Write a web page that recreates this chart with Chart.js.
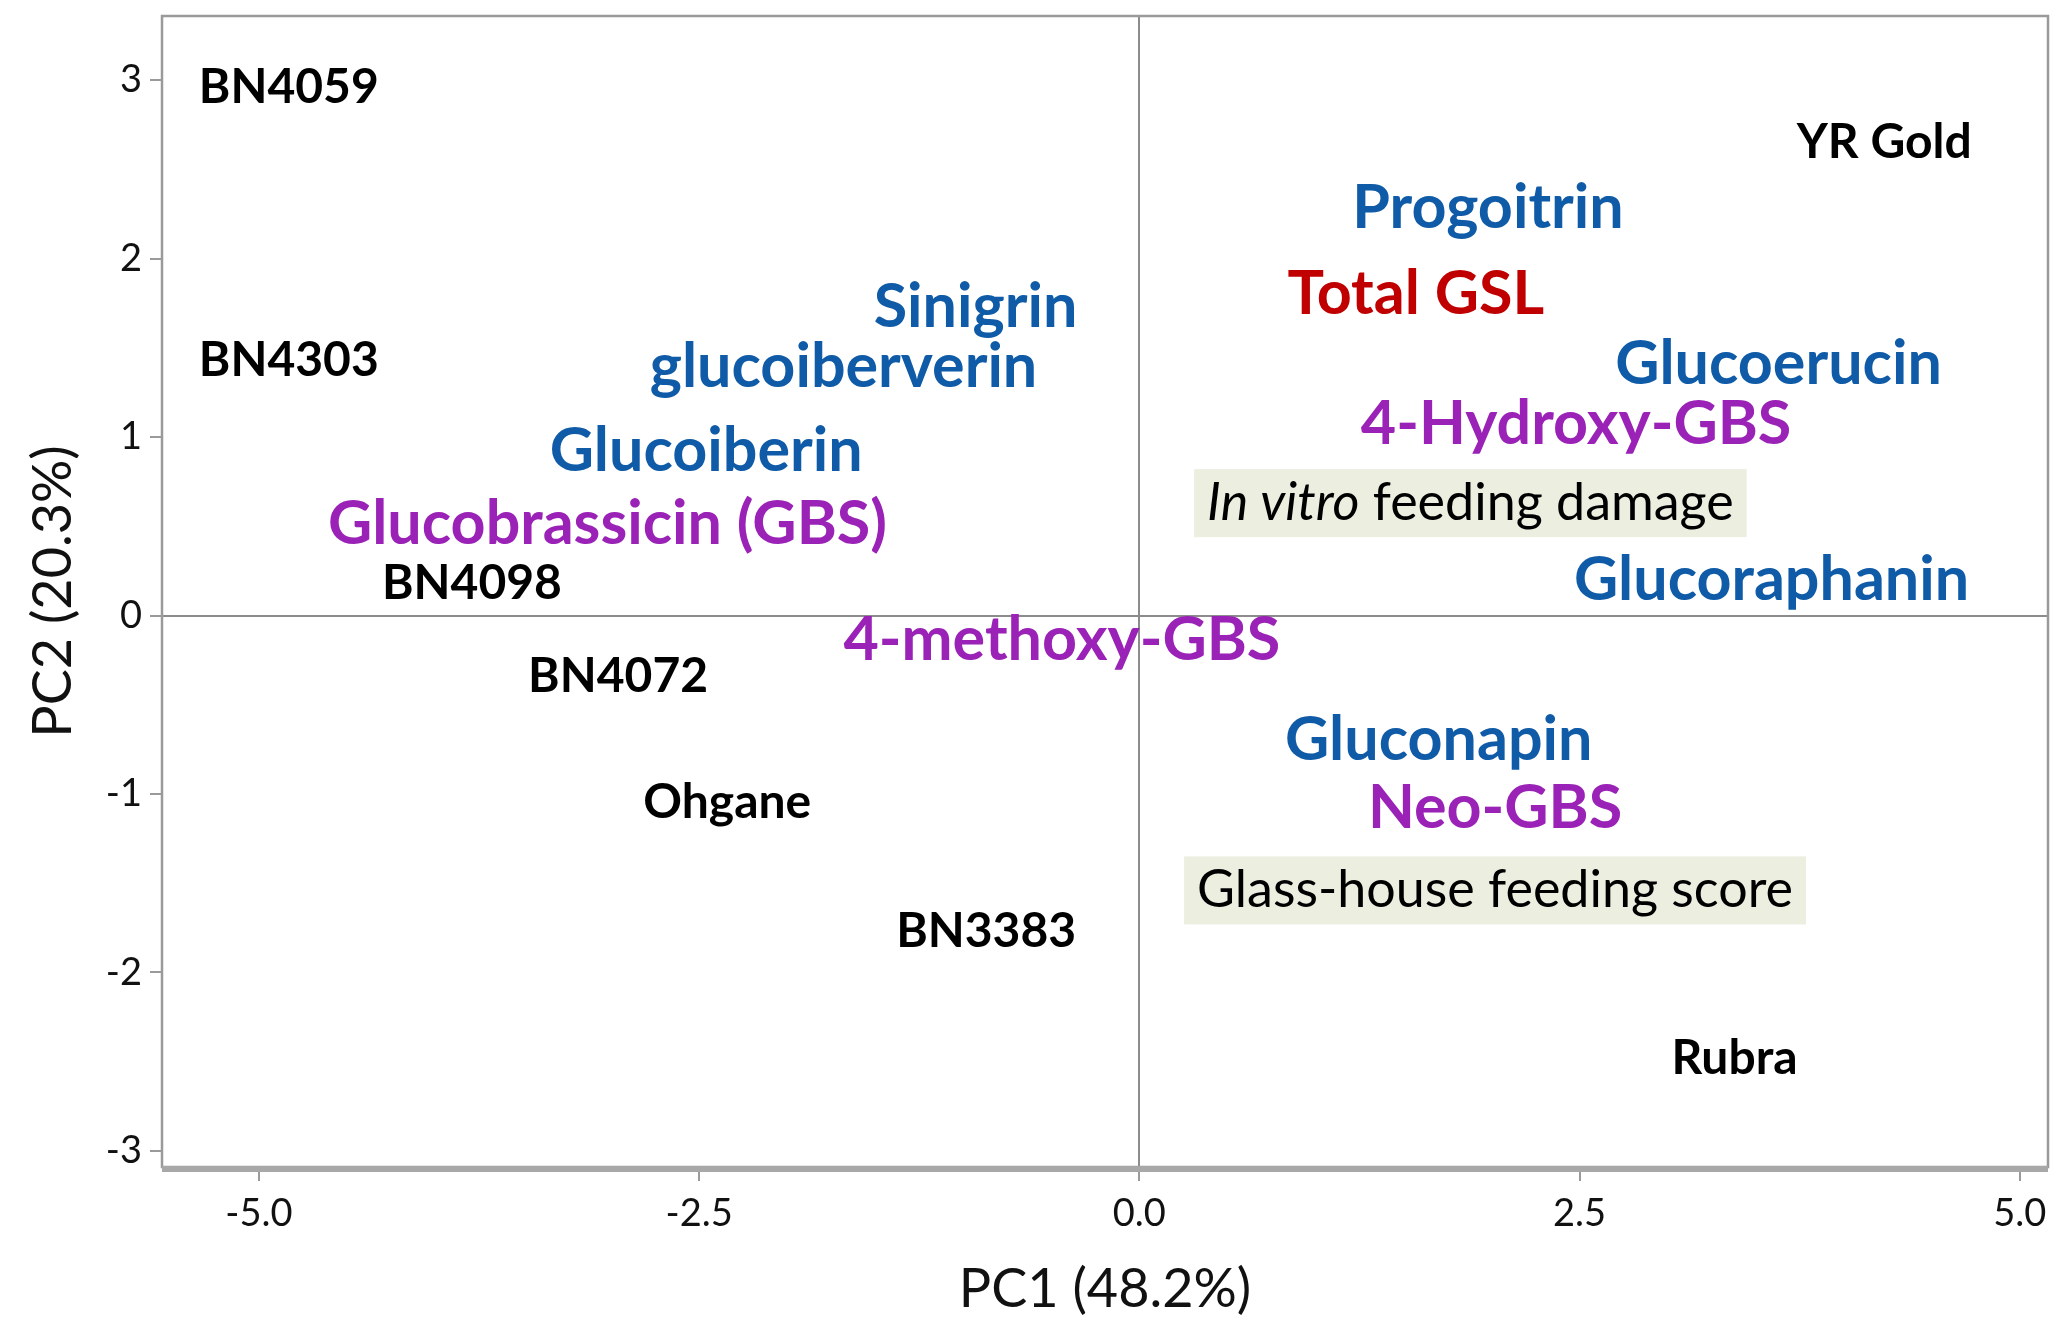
<!DOCTYPE html>
<html lang="en">
<head>
    <meta charset="UTF-8">
    <title>PCA biplot - PC1 vs PC2</title>
    <script src="https://cdn.jsdelivr.net/npm/chart.js"></script>
    <style>
        html, body { margin: 0; padding: 0; background: #fff; }
        #wrap { width: 2069px; height: 1330px; }
    </style>
</head>
<body>
    <div id="wrap"><canvas id="pcaChart"></canvas></div>

    <script>
        // Varieties (black labels)
        const varieties = ['BN4059', 'BN4303', 'BN4098', 'BN4072', 'Ohgane', 'BN3383', 'YR Gold', 'Rubra'];
        const varietyPC1 = [-4.83, -4.83, -3.79, -2.96, -2.34, -0.87, 4.23, 3.38];
        const varietyPC2 = [2.96, 1.43, 0.18, -0.34, -1.05, -1.77, 2.65, -2.48];

        // Aliphatic / aromatic glucosinolates (blue)
        const blueNames = ['Progoitrin', 'Sinigrin', 'glucoiberverin', 'Glucoerucin', 'Glucoiberin', 'Glucoraphanin', 'Gluconapin'];
        const bluePC1 = [1.98, -0.93, -1.68, 3.63, -2.46, 3.59, 1.70];
        const bluePC2 = [2.28, 1.73, 1.39, 1.41, 0.92, 0.20, -0.70];

        // Indole glucosinolates (purple)
        const purpleNames = ['4-Hydroxy-GBS', 'Glucobrassicin (GBS)', '4-methoxy-GBS', 'Neo-GBS'];
        const purplePC1 = [2.48, -3.02, -0.44, 2.02];
        const purplePC2 = [1.07, 0.51, -0.14, -1.08];

        // Total (red)
        const totalNames = ['Total GSL'];
        const totalPC1 = [1.57];
        const totalPC2 = [1.80];

        // Feeding traits (boxed)
        const feedingNames = ['In vitro|feeding damage', 'Glass-house feeding score'];
        const feedingPC1 = [1.88, 2.02];
        const feedingPC2 = [0.63, -1.54];

        const xTicks = [-5, -2.5, 0, 2.5, 5];
        const yTicks = [-3, -2, -1, 0, 1, 2, 3];

        const toPoints = (xs, ys) => xs.map((x, i) => ({ x: x, y: ys[i] }));

        const groups = [
            { names: varieties, xs: varietyPC1, ys: varietyPC2, color: '#000000', font: 'bold 48px Lato', box: false },
            { names: blueNames, xs: bluePC1, ys: bluePC2, color: '#0f5ba7', font: 'bold 61px Lato', box: false },
            { names: purpleNames, xs: purplePC1, ys: purplePC2, color: '#9a22b6', font: 'bold 61px Lato', box: false },
            { names: totalNames, xs: totalPC1, ys: totalPC2, color: '#c00000', font: 'bold 61px Lato', box: false },
            { names: feedingNames, xs: feedingPC1, ys: feedingPC2, color: '#000000', font: '52px Lato', box: true }
        ];

        // draws the text labels at each point position given by the scales
        const labelPlugin = {
            id: 'pointLabels',
            afterDatasetsDraw(chart) {
                const ctx = chart.ctx;
                ctx.save();
                ctx.textBaseline = 'middle';
                groups.forEach((g, di) => {
                    const meta = chart.getDatasetMeta(di);
                    meta.data.forEach((pt, i) => {
                        const name = g.names[i];
                        ctx.fillStyle = g.color;
                        ctx.font = g.font;
                        if (!g.box) {
                            ctx.textAlign = 'center';
                            ctx.fillText(name, pt.x, pt.y);
                            return;
                        }
                        // boxed label, optional italic first part
                        let parts = name.split('|');
                        let italic = parts.length > 1 ? parts[0] : '';
                        let rest = parts.length > 1 ? ' ' + parts[1] : parts[0];
                        ctx.font = 'italic ' + g.font;
                        const wi = italic ? ctx.measureText(italic).width : 0;
                        ctx.font = g.font;
                        const wr = ctx.measureText(rest).width;
                        const w = wi + wr;
                        const left = pt.x - w / 2;
                        ctx.fillStyle = '#eceee0';
                        ctx.fillRect(left - 13, pt.y - 34, w + 26, 68);
                        ctx.fillStyle = g.color;
                        ctx.textAlign = 'left';
                        if (italic) {
                            ctx.font = 'italic ' + g.font;
                            ctx.fillText(italic, left, pt.y);
                        }
                        ctx.font = g.font;
                        ctx.fillText(rest, left + wi, pt.y);
                    });
                });
                ctx.restore();
            }
        };

        // frame around the plot area, heavier at the bottom
        const framePlugin = {
            id: 'frame',
            afterDraw(chart) {
                const a = chart.chartArea;
                const ctx = chart.ctx;
                ctx.save();
                ctx.strokeStyle = '#9a9a9a';
                ctx.lineWidth = 2.5;
                ctx.strokeRect(a.left, a.top, a.right - a.left, a.bottom - a.top);
                ctx.strokeStyle = '#a8a8a8';
                ctx.lineWidth = 6;
                ctx.beginPath();
                ctx.moveTo(a.left, a.bottom + 2);
                ctx.lineTo(a.right, a.bottom + 2);
                ctx.stroke();
                ctx.restore();
            }
        };

        const zeroGrid = (ctx) => (ctx.tick && ctx.tick.value === 0) ? '#8c8c8c' : 'rgba(0,0,0,0)';

        new Chart(document.getElementById('pcaChart'), {
            type: 'scatter',
            data: {
                datasets: groups.map(g => ({
                    data: toPoints(g.xs, g.ys),
                    pointRadius: 0,
                    pointHoverRadius: 0
                }))
            },
            options: {
                responsive: true,
                maintainAspectRatio: false,
                animation: false,
                layout: { padding: { top: 16, right: 21, left: 0, bottom: 0 } },
                plugins: {
                    legend: { display: false },
                    tooltip: { enabled: false }
                },
                scales: {
                    x: {
                        type: 'linear',
                        min: -5.55,
                        max: 5.16,
                        afterBuildTicks: (axis) => { axis.ticks = xTicks.map(v => ({ value: v })); },
                        afterFit: (axis) => {
                            axis.height = 163;
                            axis.paddingLeft = 0;
                            axis.paddingRight = 0;
                        },
                        grid: { color: zeroGrid, lineWidth: 2, tickColor: '#9a9a9a', tickLength: 14 },
                        border: { display: false },
                        ticks: {
                            color: '#111',
                            font: { family: 'Lato', size: 38 },
                            padding: 10,
                            callback: (v) => Number(v).toFixed(1)
                        },
                        title: {
                            display: true,
                            text: 'PC1 (48.2%)',
                            color: '#111',
                            font: { family: 'Lato', size: 54 },
                            padding: { top: 20, bottom: 8 }
                        }
                    },
                    y: {
                        type: 'linear',
                        min: -3.09,
                        max: 3.36,
                        afterBuildTicks: (axis) => { axis.ticks = yTicks.map(v => ({ value: v })); },
                        afterFit: (axis) => {
                            axis.width = 162;
                            axis.paddingTop = 0;
                            axis.paddingBottom = 0;
                        },
                        grid: { color: zeroGrid, lineWidth: 2, tickColor: '#9a9a9a', tickLength: 12 },
                        border: { display: false },
                        ticks: {
                            color: '#111',
                            font: { family: 'Lato', size: 38 },
                            padding: 8
                        },
                        title: {
                            display: true,
                            text: 'PC2 (20.3%)',
                            color: '#111',
                            font: { family: 'Lato', size: 54 },
                            padding: { top: 21, bottom: 20 }
                        }
                    }
                }
            },
            plugins: [labelPlugin, framePlugin]
        });
    </script>
</body>
</html>
